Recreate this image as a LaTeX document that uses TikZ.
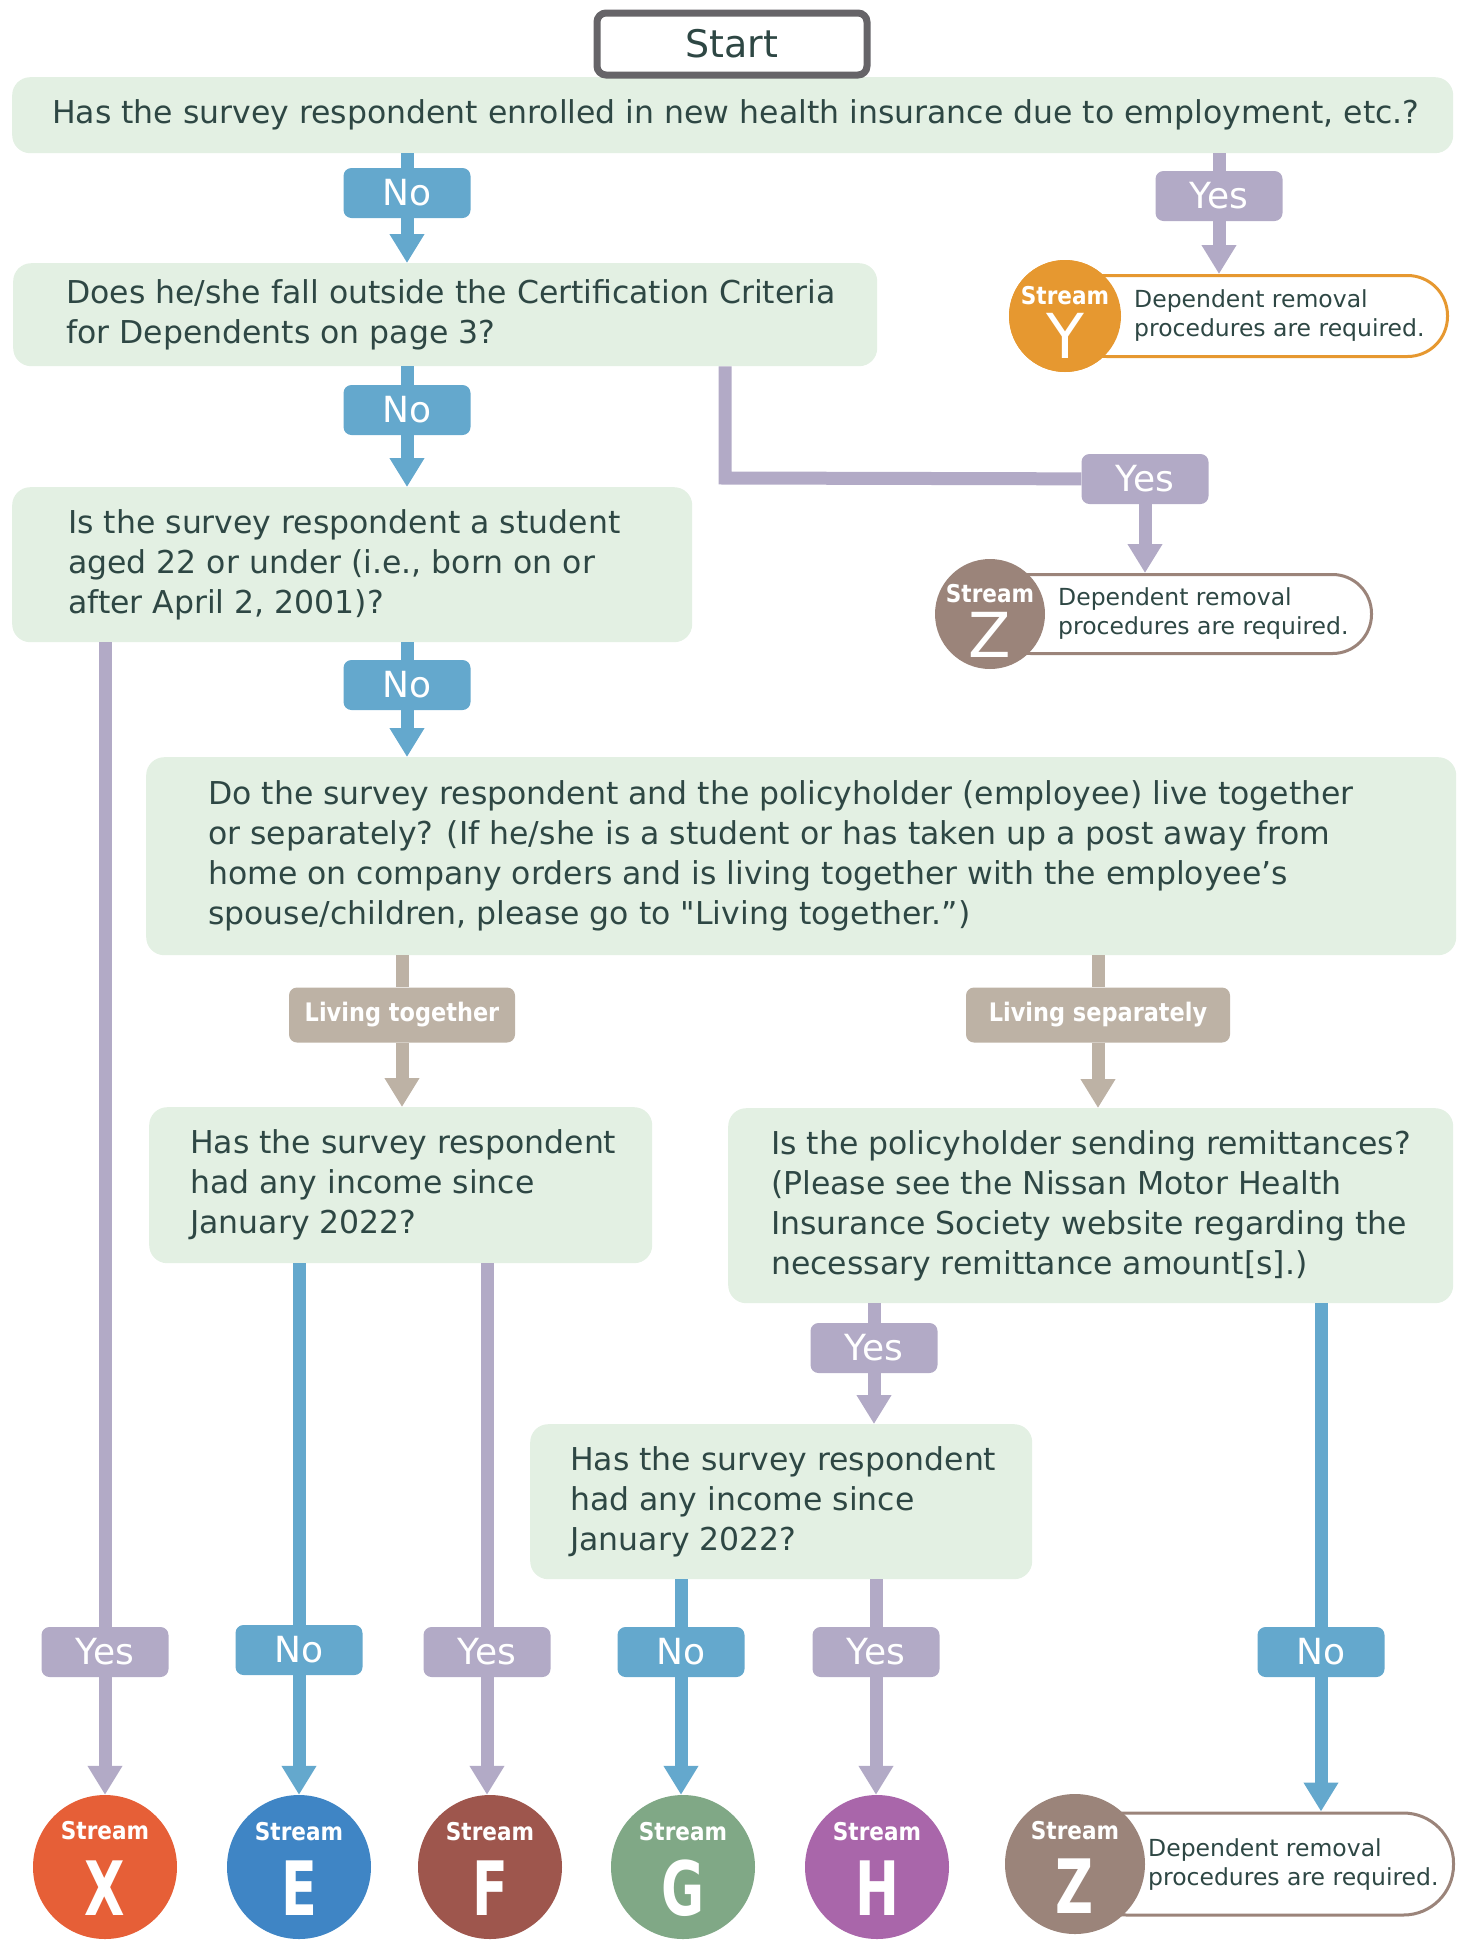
\documentclass[tikz,border=0pt]{standalone}
\usepackage{fontspec}
\setmainfont{DejaVu Sans}
\newfontfamily\tagfont{DejaVu Sans}[FakeStretch=0.88]
\newfontfamily\letterfont{DejaVu Sans}[FakeStretch=0.7]
\usepackage{xcolor}
\usetikzlibrary{positioning,arrows.meta}

\definecolor{qfill}{HTML}{E3F0E3}
\definecolor{inkcol}{HTML}{2E4744}
\definecolor{nocol}{HTML}{64A8CD}
\definecolor{yescol}{HTML}{B2AAC6}
\definecolor{livecol}{HTML}{BDB2A5}
\definecolor{startcol}{HTML}{666468}
\definecolor{cY}{HTML}{E69830}
\definecolor{cZ}{HTML}{9B847A}
\definecolor{cX}{HTML}{E65F37}
\definecolor{cE}{HTML}{3F85C5}
\definecolor{cF}{HTML}{9E564D}
\definecolor{cG}{HTML}{80A886}
\definecolor{cH}{HTML}{A966AA}

\begin{document}
\begin{tikzpicture}[x=1pt, y=-1pt,
    qbox/.style={fill=qfill, rounded corners=18pt, anchor=north west, inner sep=0pt},
    qtxt/.style={text=inkcol, align=left, anchor=west, inner sep=0pt, font=\fontsize{31.5}{40}\selectfont},
    startbox/.style={draw=startcol, line width=7pt, fill=white, rounded corners=9pt, minimum width=270pt, minimum height=62pt, text=inkcol, font=\fontsize{38}{40}\selectfont},
    lblbase/.style={rounded corners=8pt, minimum width=127pt, minimum height=50pt, inner sep=0pt, text=white, font=\fontsize{36}{36}\selectfont},
    nolbl/.style={lblbase, fill=nocol},
    yeslbl/.style={lblbase, fill=yescol},
    livelbl/.style={lblbase, fill=livecol, minimum height=55pt, font=\tagfont\bfseries\fontsize{25.5}{26}\selectfont},
    noline/.style={draw=nocol, line width=13pt},
    noarrow/.style={noline, -{Triangle[width=33pt,length=29pt]}},
    yesline/.style={draw=yescol, line width=13pt},
    yesarrow/.style={yesline, -{Triangle[width=33pt,length=29pt]}},
    liveline/.style={draw=livecol, line width=13pt},
    livearrow/.style={liveline, -{Triangle[width=33pt,length=29pt]}},
    ball/.style={circle, fill=#1, inner sep=0pt},
    bigball/.style={ball=#1, minimum size=144pt},
    pill/.style={draw=#1, line width=3pt, fill=white, inner sep=0pt, anchor=west},
    pilltxt/.style={text=inkcol, align=left, anchor=west, inner sep=0pt, font=\fontsize{23.5}{29}\selectfont},
    streamtag/.style={text=white, inner sep=0pt, font=\tagfont\bfseries\fontsize{24.5}{25}\selectfont},
    bigletter/.style={text=white, inner sep=0pt, font=\letterfont\bfseries\fontsize{75}{75}\selectfont},
    thinletter/.style={text=white, inner sep=0pt, font=\fontsize{62}{62}\selectfont}]

    \useasboundingbox (0,0) rectangle (1461,1944);

    % questions
    \node[qbox, minimum width=1441pt, minimum height=76pt] (q1) at (12,77) {};
    \node[qtxt, anchor=center] (q1t) at ([xshift=3pt]q1.center) {Has the survey respondent enrolled in new health insurance due to employment, etc.?};
    \node[startbox] (start) at (732,44) {Start};

    \node[qbox, minimum width=864pt, minimum height=103pt] (q2) at (13,263) {};
    \node[qtxt] (q2t) at ([xshift=53pt]q2.west) {Does he/she fall outside the Certification Criteria\\for Dependents on page 3?};

    \node[qbox, minimum width=680pt, minimum height=155pt] (q3) at (12,487) {};
    \node[qtxt] (q3t) at ([xshift=56pt]q3.west) {Is the survey respondent a student\\aged 22 or under (i.e., born on or\\after April 2, 2001)?};

    \node[qbox, minimum width=1310pt, minimum height=198pt] (q4) at (146,757) {};
    \node[qtxt] (q4t) at ([xshift=62pt]q4.west) {Do the survey respondent and the policyholder (employee) live together\\or separately? (If he/she is a student or has taken up a post away from\\home on company orders and is living together with the employee’s\\spouse/children, please go to \textquotedbl Living together.”)};

    \node[qbox, minimum width=503pt, minimum height=156pt] (q5) at (149,1107) {};
    \node[qtxt] (q5t) at ([xshift=41pt]q5.west) {Has the survey respondent\\had any income since\\January 2022?};

    \node[qbox, minimum width=725pt, minimum height=195pt] (q6) at (728,1108) {};
    \node[qtxt] (q6t) at ([xshift=43pt]q6.west) {Is the policyholder sending remittances?\\(Please see the Nissan Motor Health\\Insurance Society website regarding the\\necessary remittance amount[s].)};

    \node[qbox, minimum width=502pt, minimum height=155pt] (q7) at (530,1424) {};
    \node[qtxt] (q7t) at ([xshift=40pt]q7.west) {Has the survey respondent\\had any income since\\January 2022?};

    % answer tags
    \node[nolbl] (no1) at (407,193) {No};
    \node[yeslbl] (yes1) at (1219,196) {Yes};
    \node[nolbl] (no2) at (407,410) {No};
    \node[yeslbl] (yes2) at (1145,479) {Yes};
    \node[nolbl] (no3) at (407,685) {No};
    \node[livelbl, minimum width=226pt] (livet) at (402,1015) {Living together};
    \node[livelbl, minimum width=264pt] (lives) at (1098,1015) {Living separately};
    \node[yeslbl] (yes6) at (874,1348) {Yes};
    \node[yeslbl] (yesx) at (105,1652) {Yes};
    \node[nolbl] (noe) at (299,1650) {No};
    \node[yeslbl] (yesf) at (487,1652) {Yes};
    \node[nolbl] (nog) at (681,1652) {No};
    \node[yeslbl] (yesh) at (876,1652) {Yes};
    \node[nolbl] (noz) at (1321,1652) {No};

    % streams
    \node[ball=cY, minimum size=112pt] (sy) at (1065,316) {};
    \node[pill=cY, minimum width=381pt, minimum height=81pt, rounded corners=40pt] (pilly) at (sy.center) {};
    \node[ball=cY, minimum size=112pt] (sy2) at (sy.center) {};
    \node[streamtag] (syt) at ([yshift=20pt]sy.center) {Stream};
    \node[thinletter] (syl) at ([yshift=-20pt]sy.center) {Y};
    \node[pilltxt] (pty) at ([xshift=69pt]sy.center) {Dependent removal\\procedures are required.};

    \node[pill=cZ, minimum width=380pt, minimum height=79pt, rounded corners=39pt] (pillz) at (990,614) {};
    \node[ball=cZ, minimum size=110pt] (sz) at (990,614) {};
    \node[streamtag] (szt) at ([yshift=20pt]sz.center) {Stream};
    \node[thinletter] (szl) at ([yshift=-21pt]sz.center) {Z};
    \node[pilltxt] (ptz) at ([xshift=68pt]sz.center) {Dependent removal\\procedures are required.};

    \node[bigball=cX] (sx) at (105,1867) {};
    \node[streamtag] (sxt) at ([yshift=36pt]sx.center) {Stream};
    \node[bigletter] (sxl) at ([yshift=-21pt]sx.center) {X};

    \node[bigball=cE] (se) at (299,1867) {};
    \node[streamtag] (set) at ([yshift=35pt]se.center) {Stream};
    \node[bigletter] (sel) at ([yshift=-21pt]se.center) {E};

    \node[bigball=cF] (sf) at (490,1867) {};
    \node[streamtag] (sft) at ([yshift=35pt]sf.center) {Stream};
    \node[bigletter] (sfl) at ([yshift=-21pt]sf.center) {F};

    \node[bigball=cG] (sg) at (683,1867) {};
    \node[streamtag] (sgt) at ([yshift=35pt]sg.center) {Stream};
    \node[bigletter] (sgl) at ([yshift=-21pt]sg.center) {G};

    \node[bigball=cH] (sh) at (877,1867) {};
    \node[streamtag] (sht) at ([yshift=35pt]sh.center) {Stream};
    \node[bigletter] (shl) at ([yshift=-21pt]sh.center) {H};

    \node[pill=cZ, minimum width=377pt, minimum height=102pt, rounded corners=50pt] (pillz2) at (1075,1864) {};
    \node[ball=cZ, minimum size=140pt] (sz2) at (1075,1864) {};
    \node[streamtag] (sz2t) at ([yshift=33pt]sz2.center) {Stream};
    \node[bigletter] (sz2l) at ([yshift=-22pt]sz2.center) {Z};
    \node[pilltxt] (ptz2) at ([xshift=73pt]sz2.center) {Dependent removal\\procedures are required.};

    % connectors
    \draw[noline] (q1.south -| no1) -- (no1);
    \draw[noarrow] (no1) -- (q2.north -| no1);
    \draw[yesline] (q1.south -| yes1) -- (yes1);
    \draw[yesarrow] (yes1) -- (pilly.north -| yes1);

    \draw[noline] (q2.south -| no2) -- (no2);
    \draw[noarrow] (no2) -- (q3.north -| no2);
    \coordinate (bend2) at (725,478);
    \draw[yesline] (q2.south -| bend2) -- (bend2) -- (yes2);
    \draw[yesarrow] (yes2) -- (pillz.north -| yes2);

    \draw[noline] (q3.south -| no3) -- (no3);
    \draw[noarrow] (no3) -- (q4.north -| no3);
    \draw[yesline] (q3.south -| yesx) -- (yesx);
    \draw[yesarrow] (yesx) -- (sx.north -| yesx);

    \draw[liveline] (q4.south -| livet) -- (livet);
    \draw[livearrow] (livet) -- (q5.north -| livet);
    \draw[liveline] (q4.south -| lives) -- (lives);
    \draw[livearrow] (lives) -- (q6.north -| lives);

    \draw[noline] (q5.south -| noe) -- (noe);
    \draw[noarrow] (noe) -- (se.north -| noe);
    \draw[yesline] (q5.south -| yesf) -- (yesf);
    \draw[yesarrow] (yesf) -- (sf.north -| yesf);

    \draw[yesline] (q6.south -| yes6) -- (yes6);
    \draw[yesarrow] (yes6) -- (q7.north -| yes6);
    \draw[noline] (q6.south -| noz) -- (noz);
    \draw[noarrow] (noz) -- (pillz2.north -| noz);

    \draw[noline] (q7.south -| nog) -- (nog);
    \draw[noarrow] (nog) -- (sg.north -| nog);
    \draw[yesline] (q7.south -| yesh) -- (yesh);
    \draw[yesarrow] (yesh) -- (sh.north -| yesh);
\end{tikzpicture}
\end{document}
